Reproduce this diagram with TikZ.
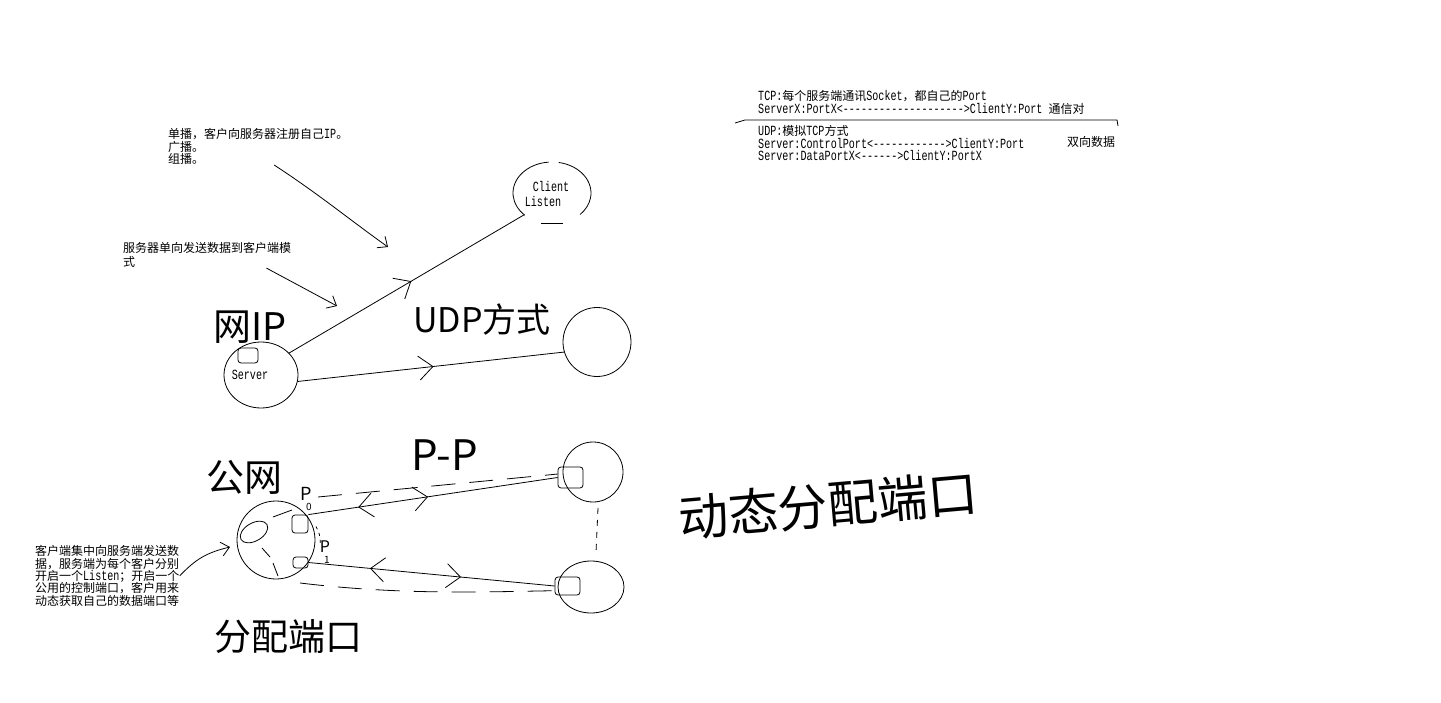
\documentclass[tikz,border=0pt]{standalone}
\usepackage{fontspec}
\setmainfont{Liberation Mono}[Ligatures=TeXOff, FakeStretch=0.72]
\newfontfamily\cjk{Noto Sans CJK SC}
\usetikzlibrary{decorations.markings, calc}
\usetikzlibrary{arrows.meta, shapes.geometric}

\newcommand{\zh}[1]{{\cjk\fontsize{12}{12.5}\selectfont #1}}
\newcommand{\hw}[1]{\fontsize{#1}{#1}\selectfont\cjk}
\lineskiplimit=-20pt
\lineskip=0pt

\tikzset{
  note/.style={anchor=north west, inner sep=0pt, align=left, font=\fontsize{14}{12.5}\selectfont},
  host/.style={draw, ellipse, inner sep=0pt, line width=0.8pt},
  port/.style={draw, rounded corners=3pt, inner sep=0pt, line width=0.8pt},
  scrawl/.style={inner sep=0pt},
  tag/.style={inner sep=0pt, font=\fontsize{14}{14}\selectfont},
  link/.style={line width=0.8pt},
  pointer/.style={line width=0.8pt, -{Straight Barb[length=8pt,width=14pt]}},
  handdash/.style={line width=0.8pt, dash pattern=on 24pt off 14pt},
  fwd/.style={postaction={decorate, decoration={markings, mark=at position #1 with {\arrow[line width=0.8pt]{Straight Barb[length=14pt,width=24pt]}}}}},
  bwd/.style={postaction={decorate, decoration={markings, mark=at position #1 with {\arrowreversed[line width=0.8pt]{Straight Barb[length=14pt,width=24pt]}}}}},
}

\begin{document}
\begin{tikzpicture}[x=1pt, y=-1pt]
  % Fondo y margen
  \fill[white] (0,0) rectangle (1441,703);
  \useasboundingbox (0,0) rectangle (1441,703);

  % Notas TCP / UDP
  \node[note] (tcp) at (758,90.5) {TCP:\zh{每个服务端通讯}Socket\zh{，都自己的}Port\\
    ServerX:PortX<-------------------->ClientY:Port \zh{通信对}};
  \draw[link] (735,123) -- (745,120) -- (1117,120) -- (1118,126);
  \node[note] (udp) at (758,125.5) {UDP:\zh{模拟}TCP\zh{方式}\\
    Server:ControlPort<------------>ClientY:Port\\
    Server:DataPortX<------>ClientY:PortX};
  \node[note] (bidir) at (1067,136.5) {\zh{双向数据}};

  % Notas de la izquierda
  \node[note] (uni) at (168,128.5) {\zh{单播，客户向服务器注册自己}IP\zh{。}\\\zh{广播。}\\\zh{组播。}};
  \node[note, font=\fontsize{14}{14}\selectfont] (smode) at (123,242.5) {\zh{服务器单向发送数据到客户端模}\\\zh{式}};
  \node[note, font=\fontsize{14}{12.3}\selectfont] (cent) at (35,545.5) {\zh{客户端集中向服务端发送数}\\\zh{据，服务端为每个客户分别}\\\zh{开启一个}Listen\zh{；开启一个}\\\zh{公用的控制端口，客户用来}\\\zh{动态获取自己的数据端口等}};

  % Servidor y clientes (UDP)
  \node[host, minimum width=74pt, minimum height=66pt] (server) at (261,375) {};
  \node[tag] (srvtxt) at (250,375) {Server};
  \node[port, minimum width=20pt, minimum height=15pt] (sport) at (248,355.5) {};
  \node[ellipse, inner sep=0pt, minimum width=78pt, minimum height=62pt] (client) at (552,193) {};
  \node[tag] (clitxt) at (551,186) {Client};
  \node[tag] (lsntxt) at (543,201) {Listen};
  \node[host, minimum width=68pt, minimum height=69pt] (mid) at (597,342) {};

  % Contorno abierto del cliente
  \draw[link] ([shift={(95:39pt and 31pt)}]client.center) arc[start angle=95, end angle=226, x radius=39pt, y radius=31pt];
  \draw[link] ([shift={(80:39pt and 31pt)}]client.center) arc[start angle=80, end angle=-44, x radius=39pt, y radius=31pt];
  \draw[link] ([shift={(-11pt,-30pt)}]client.center) -- ++(22pt,0pt);

  % Enlaces del servidor
  \draw[link, fwd=0.52] (server.38) -- (client.218);
  \draw[link, fwd=0.51] (server.-10) -- (mid.197);

  % Punto a punto
  \node[host, minimum width=78pt, minimum height=78pt] (hub) at (276,540) {};
  \node[port, minimum width=16pt, minimum height=18pt] (hport0) at (300,524) {};
  \node[port, minimum width=15pt, minimum height=11pt] (hport1) at (300.5,562.5) {};
  \node[host, minimum width=60pt, minimum height=60pt] (peerA) at (593,472) {};
  \node[host, minimum width=66pt, minimum height=52pt] (peerB) at (591,587) {};
  \node[port, minimum width=25pt, minimum height=21pt] (aport) at (570.5,477.5) {};
  \node[port, minimum width=25pt, minimum height=18pt] (bport) at (567.5,586) {};
  \draw[link, bwd=0.2, fwd=0.48] (hport0.north east) -- (aport.west);
  \draw[link, bwd=0.25, fwd=0.62] (hport1.east) -- (bport.west);

  % Trazos dentro del hub
  \draw[link, rotate around={30:(254,532)}] (254,532) ellipse [x radius=15pt, y radius=9pt];
  \draw[link] (262,548) -- (270,557);
  \draw[link] (273,563) -- (278,576);
  \draw[link] (273,517) -- (292,510);

  % Etiquetas de puerto
  \node[scrawl, font=\hw{18}] (p0lbl) at (306,494) {P};
  \node[scrawl, font=\hw{10}] (p0sub) at (309,507) {0};
  \node[scrawl, font=\hw{16}] (p1lbl) at (325,547) {P};
  \node[scrawl, font=\hw{10}] (p1sub) at (327,560) {1};
  \draw[link, dash pattern=on 3pt off 4pt] ([xshift=3pt]hub.20) to[bend left=15] ([xshift=5pt]hub.-5);

  % Lineas discontinuas a mano
  \coordinate (du) at (318,497);
  \coordinate (dl) at (300,583);
  \draw[handdash] (du) -- (aport.165);
  \draw[handdash] (dl) .. controls (400,595) and (480,592) .. (bport.200);
  \draw[link, dash pattern=on 6pt off 6pt, shorten <=6pt, shorten >=6pt] (peerA.-80) -- (peerB.80);

  % Flechas de las notas
  \coordinate (u1) at (388,247);
  \coordinate (u2) at (337,306);
  \coordinate (u3) at (230,547);
  \draw[pointer] ([xshift=16pt]uni.south) .. controls (320,195) and (350,220) .. (u1);
  \draw[pointer] ([xshift=-25pt]smode.south east) -- (u2);
  \draw[pointer] (cent.east) .. controls (195,560) and (205,553) .. (u3);

  % Texto escrito a mano
  \node[scrawl, font=\hw{34}] (udpw) at (482,320) {UDP方式};
  \node[scrawl, font=\hw{42}] (ppw) at (445,455) {P-P};
  \node[scrawl, font=\hw{38}] (svw) at (250,327) {网IP};
  \node[scrawl, font=\hw{38}] (gw) at (244,477) {公网};
  \node[scrawl, font=\hw{37}] (fpw) at (288,637) {分配端口};
  \node[scrawl, font=\hw{50}, rotate=5] (dtw) at (828,505) {动态分配端口};

\end{tikzpicture}
\end{document}
